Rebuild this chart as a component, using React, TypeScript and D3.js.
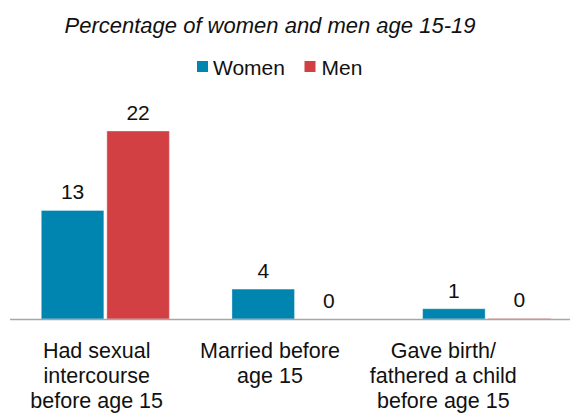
import React from "react";
import * as d3 from "d3";

const categories = [
  ["Had sexual", "intercourse", "before age 15"],
  ["Married before", "age 15"],
  ["Gave birth/", "fathered a child", "before age 15"],
];
const seriesNames = ["Women", "Men"];
const women = [12.7, 3.5, 1.2];
const men = [22.0, 0, 0.1];
const colors = ["#0084B0", "#D24044"];

const W = 570;
const H = 414;
const FONT = "'Liberation Sans', Arial, Helvetica, sans-serif";

export default function App() {
  const catIdx = categories.map((_, i) => String(i));
  const x0 = d3.scaleBand<string>().domain(catIdx).range([10, 582]);
  const xLabel = d3.scaleBand<string>().domain(catIdx).range([10, 530]);
  const bw = x0.bandwidth();
  const x1 = d3
    .scaleBand<string>()
    .domain(seriesNames)
    .range([31.3, bw - 31.3])
    .paddingInner(0.046);
  const baseY = 319;
  const y = d3.scaleLinear().domain([0, 22]).range([baseY, 131]);
  const fmt = (v: number) => String(Math.round(v));
  const data = [women, men];

  return (
    <svg
      width={W}
      height={H}
      style={{ position: "absolute", left: 0, top: 0, background: "#fff" }}
      fontFamily={FONT}
    >
      <text x={270} y={33} textAnchor="middle" fontSize={22} fontStyle="italic" fill="#111">
        Percentage of women and men age 15-19
      </text>
      {/* legend */}
      <g>
        <rect x={197} y={61} width={11} height={11} fill={colors[0]} />
        <text x={213} y={74.5} fontSize={21} fill="#111">Women</text>
        <rect x={304.5} y={61} width={11} height={11} fill={colors[1]} />
        <text x={321.5} y={74.5} fontSize={21} fill="#111">Men</text>
      </g>
      {/* bars */}
      {catIdx.map((c, i) => (
        <g key={c} transform={`translate(${x0(c)},0)`}>
          {seriesNames.map((s, j) => {
            const v = data[j][i];
            const top = y(v);
            return (
              <g key={s}>
                <rect
                  x={x1(s)}
                  y={top}
                  width={x1.bandwidth()}
                  height={baseY - top}
                  fill={colors[j]}
                  stroke={v > 0 ? "#ffffff" : "none"}
                  strokeOpacity={0.35}
                  strokeWidth={1}
                  opacity={v > 0 && v < 0.5 ? 0.5 : 1}
                />
                <text
                  x={(x1(s) as number) + x1.bandwidth() / 2}
                  y={top - 11}
                  textAnchor="middle"
                  fontSize={21}
                  fill="#111"
                >
                  {fmt(v)}
                </text>
              </g>
            );
          })}
        </g>
      ))}
      {/* axis */}
      <line x1={10} x2={W} y1={319.5} y2={319.5} stroke="#A6A6A6" strokeWidth={1.5} />
      {/* category labels */}
      {categories.map((lines, i) => (
        <text
          key={i}
          x={(xLabel(String(i)) as number) + xLabel.bandwidth() / 2}
          y={358}
          textAnchor="middle"
          fontSize={21.5}
          fill="#111"
        >
          {lines.map((ln, k) => (
            <tspan key={k} x={(xLabel(String(i)) as number) + xLabel.bandwidth() / 2} dy={k === 0 ? 0 : 25}>
              {ln}
            </tspan>
          ))}
        </text>
      ))}
    </svg>
  );
}
